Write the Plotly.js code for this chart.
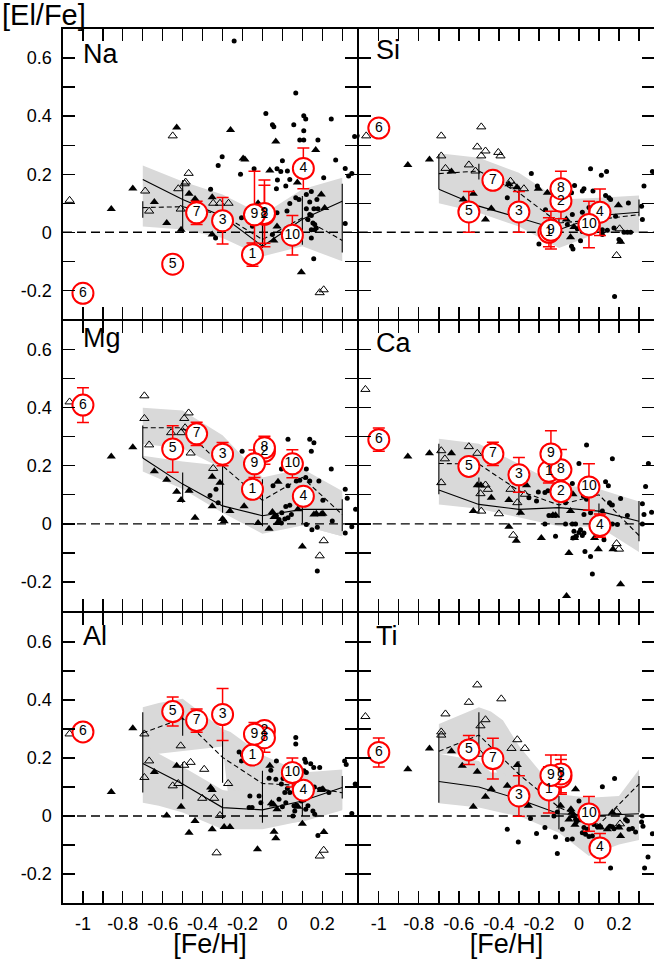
<!DOCTYPE html>
<html><head><meta charset="utf-8">
<script src="https://cdn.plot.ly/plotly-3.0.1.min.js"></script>
<style>html,body{margin:0;padding:0;background:#fff}#chart{width:654px;height:959px}</style>
</head><body><div id="chart"></div>
<script>
// ---------- shared values ----------
const nodeFeH = [-0.7, -0.5, -0.3, -0.1, 0.1, 0.3];
const starLabels = ['1','2','3','4','5','6','7','8','9','10'];
const starFeH = [-0.15, -0.09, -0.30, 0.105, -0.55, -1.0, -0.43, -0.09, -0.14, 0.05];
const xRange = [-1.1, 0.375];
const yRange = [-0.3, 0.7];
const xTickVals = [-1, -0.8, -0.6, -0.4, -0.2, 0, 0.2];
const xTickText = ['-1', '-0.8', '-0.6', '-0.4', '-0.2', '0', '0.2'];
const yTickVals = [-0.2, 0, 0.2, 0.4, 0.6];
const yTickText = ['-0.2', '0', '0.2', '0.4', '0.6'];
const panelNames = ['Na', 'Si', 'Mg', 'Ca', 'Al', 'Ti'];

// ---------- Na ----------
const naStarY = [-0.077, 0.062, 0.04, 0.22, -0.11, -0.21, 0.067, 0.065, 0.06, -0.01];
const naStarErr = [0.04, 0.10, 0.08, 0.07, 0, 0, 0.04, 0.115, 0.15, 0.068];
const naSolid = [0.182, 0.113, 0.055, -0.048, 0.045, 0.107];
const naDashed = [0.085, 0.088, 0.06, -0.025, 0.05, -0.028];
const naBars = [[-0.7,0.05,0.107],[-0.5,0.0,0.18],[-0.3,0.02,0.09],[-0.1,-0.054,0.067],[0.1,-0.043,0.125],[0.3,-0.07,0.167]];
const naBandTop = [0.23, 0.175, 0.13, 0.06, 0.148, 0.188];
const naBandBot = [0.02, 0.01, -0.02, -0.083, -0.048, -0.1];
const naOpen = [[-1.067,0.11],[-0.688,0.142],[-0.668,0.073],[-0.55,0.332],[-0.522,0.15],[-0.51,0.08],[-0.49,0.167],[-0.485,0.173],[-0.47,0.203],[-0.347,0.10],[-0.313,0.10],[-0.27,0.10],[0.187,-0.208],[0.207,-0.198]];
const naFilled = [[-0.858,0.08],[-0.75,0.151],[-0.642,0.104],[-0.58,0.032],[-0.53,0.361],[-0.508,0.009],[-0.468,0.133],[-0.438,0.115],[-0.352,0.121],[-0.352,-0.008],[-0.26,0.352],[-0.197,0.254],[-0.188,0.251],[-0.122,0.10],[-0.063,0.213],[-0.033,0.313],[-0.043,-0.028],[-0.027,0.02],[0.075,0.171],[0.095,-0.138],[0.167,0.283],[0.195,0.13],[0.212,0.084]];
const naDots = [[-0.242,0.659],[0.067,0.48],[-0.083,0.409],[0.107,0.401],[0.117,0.39],[0.245,0.39],[-0.05,0.37],[-0.043,0.363],[0.057,0.37],[0.107,0.35],[0.087,0.318],[0.107,0.318],[0.178,0.318],[0.362,0.33],[-0.302,0.26],[-0.322,0.23],[-0.142,0.219],[0.0,0.246],[-0.008,0.209],[-0.027,0.219],[0.025,0.211],[0.267,0.249],[-0.21,0.2],[-0.025,0.18],[0.037,0.182],[0.017,0.159],[-0.03,0.15],[0.315,0.22],[0.332,0.194],[0.348,0.202],[0.207,0.188],[-0.36,0.148],[0.145,0.14],[0.12,0.13],[0.067,0.119],[0.083,0.113],[0.173,0.113],[0.037,0.099],[0.137,0.104],[0.178,0.081],[0.158,0.081],[0.12,0.081],[-0.205,0.05],[0.023,0.073],[0.137,0.061],[0.145,0.058],[0.128,0.044],[-0.15,0.021],[0.153,0.032],[0.162,0.027],[0.17,0.015],[0.145,0.009],[0.162,0.009],[0.145,-0.02],[0.315,0.03],[0.157,-0.091],[-0.05,-0.008],[-0.335,-0.02],[-0.027,0.067]];

// ---------- Si ----------
const siStarY = [0.0, 0.107, 0.07, 0.069, 0.07, 0.359, 0.179, 0.15, 0.007, 0.027];
const siStarErr = [0.05, 0.06, 0.07, 0.08, 0.07, 0, 0.025, 0.06, 0.065, 0.08];
const siSolid = [0.148, 0.09, 0.05, 0.009, 0.058, 0.069];
const siDashed = [0.202, 0.211, 0.136, 0.032, 0.044, 0.061];
const siBars = [[-0.7,0.148,0.269],[-0.5,0.182,0.236],[-0.3,0.11,0.16],[-0.1,-0.02,0.05],[0.1,0.03,0.08],[0.3,0.055,0.113]];
const siBandTop = [0.272, 0.257, 0.205, 0.113, 0.119, 0.127];
const siBandBot = [0.1, 0.067, 0.02, -0.054, -0.002, -0.002];
const siOpen = [[-1.063,0.332],[-0.688,0.332],[-0.688,0.263],[-0.667,0.22],[-0.55,0.232],[-0.517,0.211],[-0.508,0.294],[-0.488,0.363],[-0.488,0.263],[-0.467,0.28],[-0.403,0.275],[-0.392,0.263],[-0.342,0.176],[-0.325,0.16],[-0.275,0.15],[0.203,0.012],[0.188,-0.08]];
const siFilled = [[-0.855,0.232],[-0.747,0.251],[-0.637,0.209],[-0.578,0.113],[-0.528,0.133],[-0.438,0.082],[-0.467,0.044],[-0.35,0.165],[-0.31,0.155],[-0.203,0.15],[-0.158,0.136],[-0.063,0.044],[-0.042,-0.017],[-0.025,0.018],[0.197,0.093],[0.208,-0.033]];
const siDots = [[-1.108,0.332],[-0.238,0.202],[-0.358,0.119],[-0.208,0.159],[-0.167,0.078],[0.058,0.219],[0.138,0.209],[0.112,0.196],[-0.022,0.161],[0.025,0.15],[0.017,0.142],[0.07,0.142],[-0.037,0.136],[0.133,0.127],[0.15,0.119],[0.158,0.113],[0.247,0.101],[0.325,0.159],[0.367,0.209],[0.313,0.09],[0.317,0.044],[0.183,0.055],[0.137,0.065],[0.017,0.069],[-0.033,0.061],[-0.008,0.012],[0.017,0.003],[0.117,0.009],[0.142,0.007],[0.175,0.015],[0.225,0.0],[0.242,0.0],[0.258,0.0],[-0.2,-0.04],[-0.172,-0.025],[-0.03,-0.058],[-0.037,-0.048],[0.008,-0.029],[0.117,-0.008],[0.178,-0.221],[0.2,-0.025],[0.208,-0.031],[-0.058,0.027],[0.05,0.085]];

// ---------- Mg ----------
const mgStarY = [0.119, 0.25, 0.24, 0.095, 0.258, 0.409, 0.31, 0.262, 0.207, 0.207];
const mgStarErr = [0, 0.045, 0.04, 0, 0.08, 0.06, 0.04, 0.04, 0.047, 0.048];
const mgSolid = [0.227, 0.137, 0.062, 0.028, 0.05, 0.05];
const mgDashed = [0.331, 0.331, 0.2, 0.081, 0.16, 0.032];
const mgBars = [[-0.7,0.227,0.339],[-0.5,0.073,0.177],[-0.3,0.038,0.2],[-0.1,-0.008,0.154],[0.1,0.003,0.096],[0.3,-0.025,0.085]];
const mgBandATop = [0.40, 0.39, 0.305, 0.16, 0.19, 0.113];
const mgBandABot = [0.275, 0.26, 0.19, 0.0, -0.006, -0.043];
const mgBandBTop = [0.235, 0.215, 0.2, 0.1, 0.1, 0.1];
const mgBandBBot = [0.18, 0.12, 0.038, -0.034, -0.006, -0.043];
const mgOpen = [[-1.067,0.42],[-0.692,0.441],[-0.692,0.363],[-0.668,0.272],[-0.558,0.314],[-0.508,0.314],[-0.492,0.363],[-0.488,0.331],[-0.47,0.382],[-0.46,0.244],[-0.347,0.191],[0.187,-0.11],[0.207,-0.058]];
const mgFilled = [[-0.858,0.232],[-0.75,0.264],[-0.642,0.181],[-0.58,0.152],[-0.53,0.111],[-0.508,0.082],[-0.468,0.114],[-0.438,0.021],[-0.352,0.162],[-0.352,0.061],[-0.313,0.142],[-0.3,0.017],[-0.292,0.009],[-0.263,0.044],[-0.192,0.061],[-0.122,0.003],[-0.067,-0.017],[-0.05,0.041],[-0.042,0.024],[-0.025,0.003],[-0.022,0.145],[0.078,0.05],[0.1,-0.078],[0.158,0.032],[0.17,0.035],[0.195,0.033],[0.203,0.035]];
const mgDots = [[-0.202,0.25],[-0.363,0.098],[-0.333,0.119],[-0.322,0.073],[0.028,0.291],[0.137,0.291],[0.158,0.279],[0.145,0.25],[0.245,0.189],[0.12,0.189],[-0.005,0.189],[0.058,0.189],[0.117,0.16],[0.137,0.148],[0.183,0.148],[0.07,0.148],[0.087,0.15],[0.028,0.131],[-0.047,0.131],[0.203,0.081],[0.017,0.06],[0.037,0.064],[-0.003,0.038],[0.012,0.017],[0.028,0.021],[0.045,0.032],[-0.03,0.027],[-0.017,0.015],[-0.005,0.003],[0.12,-0.002],[0.148,-0.02],[0.175,-0.012],[0.315,0.119],[0.325,0.088],[0.315,-0.031],[0.348,-0.01],[0.367,0.05],[0.175,-0.162],[0.25,0.01]];

// ---------- Ca ----------
const caStarY = [0.181, 0.111, 0.169, -0.006, 0.198, 0.29, 0.241, 0.186, 0.241, 0.127];
const caStarErr = [0.04, 0.03, 0.06, 0.04, 0, 0.04, 0.04, 0.07, 0.08, 0.08];
const caSolid = [0.117, 0.067, 0.05, 0.056, 0.044, 0.009];
const caDashed = [0.208, 0.206, 0.114, 0.065, 0.1, -0.04];
const caBars = [[-0.7,0.102,0.276],[-0.5,0.036,0.16],[-0.3,0.03,0.13],[-0.1,0.02,0.09],[0.1,0.02,0.07],[0.3,-0.06,0.079]];
const caBandTop = [0.293, 0.276, 0.206, 0.135, 0.12, 0.077];
const caBandBot = [0.067, 0.052, 0.021, -0.008, -0.01, -0.097];
const caOpen = [[-1.067,0.463],[-0.688,0.252],[-0.688,0.142],[-0.67,0.224],[-0.55,0.266],[-0.508,0.243],[-0.492,0.104],[-0.488,0.044],[-0.467,0.134],[-0.455,0.119],[-0.4,0.035],[-0.342,0.119],[-0.328,-0.039],[-0.308,0.073],[-0.27,0.102],[0.188,-0.068],[0.2,-0.087]];
const caFilled = [[-0.855,0.232],[-0.747,0.243],[-0.637,0.243],[-0.528,0.044],[-0.508,0.133],[-0.49,0.133],[-0.438,0.09],[-0.35,-0.01],[-0.35,0.082],[-0.313,-0.058],[-0.292,0.038],[-0.262,0.133],[-0.188,-0.049],[-0.13,0.03],[-0.117,0.03],[-0.05,-0.1],[-0.042,0.044],[-0.03,0.102],[-0.022,-0.049],[-0.062,-0.248],[0.078,-0.049],[0.097,-0.087],[0.17,-0.087],[0.208,-0.208]];
const caDots = [[0.038,0.272],[0.0,0.208],[0.167,0.224],[0.347,0.208],[0.133,0.145],[0.147,0.131],[-0.033,0.139],[-0.203,0.11],[-0.17,0.108],[-0.155,0.114],[-0.075,0.114],[0.022,0.096],[0.038,0.085],[-0.067,0.073],[-0.25,0.09],[-0.212,0.079],[-0.15,0.029],[-0.133,0.029],[-0.117,0.029],[0.025,0.032],[0.058,0.038],[0.117,0.044],[0.208,0.087],[0.167,0.065],[0.153,0.073],[0.242,0.029],[0.167,0.0],[0.192,-0.002],[-0.17,0.0],[-0.067,0.0],[-0.033,0.0],[-0.017,0.0],[0.008,-0.02],[0.025,-0.031],[-0.117,-0.043],[-0.025,-0.025],[0.0,-0.03],[-0.03,-0.049],[-0.013,-0.043],[0.017,-0.04],[0.058,-0.112],[0.067,-0.173],[0.325,0.032],[0.333,0.129],[0.363,0.04],[0.317,0.069],[0.317,0.0],[0.108,-0.031],[0.117,-0.02],[0.125,-0.055],[0.03,-0.095]];

// ---------- Al ----------
const alStarY = [0.21, 0.295, 0.35, 0.089, 0.36, 0.29, 0.329, 0.27, 0.282, 0.15];
const alStarErr = [0, 0.03, 0.09, 0, 0.05, 0, 0.04, 0.05, 0.04, 0.05];
const alSolid = [0.181, 0.11, 0.029, 0.021, 0.052, 0.098];
const alDashed = [0.286, 0.337, 0.202, 0.112, 0.105, 0.08];
const alBars = [[-0.7,0.081,0.358],[-0.5,0.277,0.352],[-0.5,0.058,0.185],[-0.3,0.115,0.29],[-0.3,-0.01,0.06],[-0.1,-0.023,0.156],[0.1,0.0,0.058],[0.3,0.06,0.138]];
const alBandX = [-0.7, -0.62, -0.5, -0.3, -0.26, -0.1, 0.1, 0.3];
const alBandATop = [0.375, 0.39, 0.404, 0.30, 0.29, 0.21, 0.15, 0.16];
const alBandABot = [0.2, 0.215, 0.225, 0.24, 0.0, -0.03, -0.02, 0.02];
const alBandBTop = [0.25, 0.215, 0.17, 0.09, 0.085, 0.1, 0.1, 0.1];
const alBandBBot = [0.046, 0.035, 0.012, -0.046, -0.046, -0.046, -0.017, 0.023];
const alOpen = [[-1.067,0.283],[-0.692,0.283],[-0.692,0.133],[-0.668,0.19],[-0.55,0.104],[-0.522,0.112],[-0.51,0.242],[-0.492,0.175],[-0.46,0.185],[-0.402,0.061],[-0.392,0.161],[-0.342,0.061],[-0.33,-0.127],[-0.313,0.002],[-0.272,0.112],[0.187,-0.138],[0.207,-0.118]];
const alFilled = [[-0.858,0.083],[-0.75,0.303],[-0.642,0.152],[-0.58,0.002],[-0.53,0.173],[-0.508,0.032],[-0.468,-0.058],[-0.438,-0.017],[-0.36,0.098],[-0.352,0.09],[-0.352,-0.046],[-0.292,-0.038],[-0.263,-0.038],[-0.125,-0.115],[-0.063,0.173],[-0.042,-0.054],[-0.033,-0.077],[-0.055,0.044],[-0.045,0.04],[-0.027,0.023],[0.078,0.032],[0.1,-0.027],[0.195,0.09],[0.203,0.092],[0.208,-0.055]];
const alDots = [[0.067,0.271],[0.067,0.248],[-0.217,0.221],[-0.2,0.21],[-0.205,0.19],[-0.03,0.19],[-0.058,0.158],[-0.067,0.13],[-0.033,0.127],[0.003,0.129],[0.112,0.196],[0.117,0.185],[0.142,0.18],[0.157,0.167],[0.187,0.167],[0.108,0.156],[0.12,0.15],[-0.005,0.11],[0.025,0.095],[0.037,0.081],[0.012,0.081],[-0.163,0.069],[-0.117,0.069],[-0.167,0.029],[-0.152,0.029],[-0.108,0.046],[-0.017,0.058],[0.0,0.032],[0.017,0.046],[0.058,0.035],[0.07,0.037],[0.095,0.052],[0.108,0.055],[0.117,0.023],[0.128,0.035],[0.153,0.017],[0.162,0.006],[0.053,0.0],[0.062,0.017],[0.178,-0.067],[0.187,0.092],[0.233,0.081],[0.312,0.19],[0.32,0.178],[0.348,0.009],[0.365,0.11],[0.15,0.09],[0.16,0.1],[0.13,0.1]];

// ---------- Ti ----------
const tiStarY = [0.09, 0.135, 0.069, -0.11, 0.228, 0.219, 0.198, 0.145, 0.14, 0.007];
const tiStarErr = [0.08, 0.06, 0.07, 0.05, 0.05, 0.05, 0.07, 0.065, 0.07, 0.06];
const tiSolid = [0.119, 0.1, 0.058, 0.008, 0.002, 0.008];
const tiDashed = [0.223, 0.279, 0.144, 0.03, -0.03, 0.11];
const tiBars = [[-0.7,0.046,0.283],[-0.5,0.219,0.358],[-0.3,0.07,0.19],[-0.1,-0.046,0.069],[0.3,0.012,0.138]];
const tiBandX = [-0.7, -0.5, -0.44, -0.38, -0.3, -0.1, 0.05, 0.2, 0.3];
const tiBandATop = [0.317, 0.375, 0.36, 0.33, 0.242, 0.075, 0.063, 0.069, 0.16];
const tiBandABot = [0.215, 0.21, 0.2, 0.1, 0.05, -0.04, -0.1, -0.05, -0.06];
const tiBandBTop = [0.215, 0.19, 0.15, 0.15, 0.1, 0.05, 0.03, 0.03, 0.05];
const tiBandBBot = [0.044, 0.029, 0.02, 0.01, 0.0, -0.058, -0.138, -0.098, -0.083];
const tiOpen = [[-1.067,0.343],[-0.688,0.279],[-0.688,0.29],[-0.667,0.352],[-0.55,0.392],[-0.508,0.452],[-0.492,0.311],[-0.467,0.332],[-0.492,0.213],[-0.388,0.404],[-0.308,0.263],[-0.337,0.233],[-0.27,0.233],[0.188,0.015],[0.205,-0.027]];
const tiFilled = [[-0.855,0.161],[-0.747,0.233],[-0.637,0.223],[-0.583,0.173],[-0.528,0.032],[-0.508,0.153],[-0.467,0.066],[-0.438,0.092],[-0.358,0.104],[-0.308,0.176],[-0.253,0.035],[-0.092,0.035],[-0.017,0.092],[-0.04,0.023],[-0.035,0.012],[-0.03,0.0],[-0.05,-0.012],[-0.02,-0.03],[0.167,0.012],[0.108,-0.04],[0.142,-0.046],[0.208,-0.069],[0.2,-0.04],[0.0,-0.015]];
const tiDots = [[0.178,0.129],[0.117,0.101],[0.0,0.052],[-0.358,-0.046],[-0.303,-0.09],[-0.242,-0.009],[-0.212,-0.06],[-0.17,-0.04],[-0.117,-0.072],[-0.108,-0.129],[-0.125,0.0],[-0.108,0.014],[-0.083,-0.046],[-0.058,-0.081],[-0.033,-0.079],[0.017,-0.058],[0.033,-0.063],[0.05,-0.071],[0.067,-0.069],[0.075,-0.029],[0.092,-0.037],[0.108,-0.037],[0.155,-0.035],[0.167,-0.037],[0.175,-0.044],[0.2,-0.037],[0.233,-0.012],[0.25,-0.046],[0.283,-0.055],[0.313,-0.021],[0.32,-0.035],[0.158,-0.179],[0.328,-0.179],[0.345,-0.141],[-0.017,-0.012],[-0.013,-0.02],[0.025,-0.04],[0.042,-0.046],[0.242,-0.017],[0.267,-0.043],[0.317,0.0],[0.367,-0.061]];

// ---------- assemble ----------
const panelData = [
  {starY: naStarY, starErr: naStarErr, solid: naSolid, dashed: naDashed, bars: naBars, bandX: nodeFeH, bands: [[naBandTop, naBandBot]], open: naOpen, filled: naFilled, dots: naDots},
  {starY: siStarY, starErr: siStarErr, solid: siSolid, dashed: siDashed, bars: siBars, bandX: nodeFeH, bands: [[siBandTop, siBandBot]], open: siOpen, filled: siFilled, dots: siDots},
  {starY: mgStarY, starErr: mgStarErr, solid: mgSolid, dashed: mgDashed, bars: mgBars, bandX: nodeFeH, bands: [[mgBandATop, mgBandABot],[mgBandBTop, mgBandBBot]], open: mgOpen, filled: mgFilled, dots: mgDots},
  {starY: caStarY, starErr: caStarErr, solid: caSolid, dashed: caDashed, bars: caBars, bandX: nodeFeH, bands: [[caBandTop, caBandBot]], open: caOpen, filled: caFilled, dots: caDots},
  {starY: alStarY, starErr: alStarErr, solid: alSolid, dashed: alDashed, bars: alBars, bandX: alBandX, bands: [[alBandATop, alBandABot],[alBandBTop, alBandBBot]], open: alOpen, filled: alFilled, dots: alDots},
  {starY: tiStarY, starErr: tiStarErr, solid: tiSolid, dashed: tiDashed, bars: tiBars, bandX: tiBandX, bands: [[tiBandATop, tiBandABot],[tiBandBTop, tiBandBBot]], open: tiOpen, filled: tiFilled, dots: tiDots}
];

// layout geometry (pixels of the 654x959 page)
const W = 654, H = 959;
const M = {l: 63, r: 0, t: 29, b: 56};
const PW = W - M.l - M.r, PH = H - M.t - M.b;
const LW = 1.6;
const colPx = [[63, 358 - LW / 2], [358 + LW / 2, 654]];
const rowPx = [[29, 319.4], [320.6, 611], [613, 903]];
const labelPos = [[81, 37], [374, 33], [81, 321], [374, 326], [81, 619], [374, 619]];
const FONT = 'Liberation Sans, Arial, Helvetica, sans-serif';
const px2x = p => (p - M.l) / PW;
const py2y = p => (H - M.b - p) / PH;

const traces = [];
const layout = {
  width: W, height: H,
  margin: {l: M.l, r: M.r, t: M.t, b: M.b, pad: 0},
  paper_bgcolor: 'white', plot_bgcolor: 'white',
  showlegend: false,
  font: {family: FONT, color: 'black'},
  annotations: [], shapes: []
};

panelData.forEach((p, i) => {
  const n = i + 1;
  const xa = n === 1 ? 'x' : 'x' + n;
  const ya = n === 1 ? 'y' : 'y' + n;
  const col = i % 2, row = Math.floor(i / 2);
  const common = {
    showline: true, linecolor: 'black', linewidth: LW, mirror: 'allticks',
    ticks: 'inside', ticklen: 12, tickwidth: 1.3, tickcolor: 'black',
    showgrid: false, zeroline: false, fixedrange: true,
    tickfont: {family: FONT, size: 18, color: 'black'},
    minor: {ticks: 'inside', ticklen: 12, tickwidth: 1.3, tickcolor: 'black', tickmode: 'linear', tick0: 0, dtick: 0.1, showgrid: false}
  };
  layout[n === 1 ? 'xaxis' : 'xaxis' + n] = Object.assign({}, common, {
    domain: [px2x(colPx[col][0]), px2x(colPx[col][1])],
    anchor: ya, range: xRange,
    tickmode: 'array', tickvals: xTickVals, ticktext: xTickText,
    showticklabels: row === 2, ticklabelstandoff: 4,
    title: row === 2 ? {text: '[Fe/H]', font: {family: FONT, size: 27, color: 'black'}, standoff: 5} : undefined
  });
  layout[n === 1 ? 'yaxis' : 'yaxis' + n] = Object.assign({}, common, {
    domain: [py2y(rowPx[row][1]), py2y(rowPx[row][0])],
    anchor: xa, range: yRange,
    tickmode: 'array', tickvals: yTickVals, ticktext: yTickText,
    showticklabels: col === 0, ticklabelstandoff: 6
  });
  // shaded bands
  p.bands.forEach(b => {
    traces.push({
      type: 'scatter', mode: 'lines', xaxis: xa, yaxis: ya,
      x: p.bandX.concat(p.bandX.slice().reverse()),
      y: b[0].concat(b[1].slice().reverse()),
      fill: 'toself', fillcolor: '#d9d9d9', line: {width: 0}, hoverinfo: 'skip'
    });
  });
  // zero reference line
  traces.push({type: 'scatter', mode: 'lines', xaxis: xa, yaxis: ya, x: xRange, y: [0, 0],
    line: {color: 'black', width: 1.4, dash: '9px,5px'}, hoverinfo: 'skip'});
  // trend lines
  traces.push({type: 'scatter', mode: 'lines', xaxis: xa, yaxis: ya, x: nodeFeH, y: p.solid,
    line: {color: 'black', width: 1.1}});
  traces.push({type: 'scatter', mode: 'lines', xaxis: xa, yaxis: ya, x: nodeFeH, y: p.dashed,
    line: {color: 'black', width: 1.1, dash: '5px,3px'}});
  // dispersion bars
  traces.push({type: 'scatter', mode: 'markers', xaxis: xa, yaxis: ya,
    x: p.bars.map(b => b[0]), y: p.bars.map(b => (b[1] + b[2]) / 2),
    marker: {size: 2, opacity: 0},
    error_y: {type: 'data', symmetric: false, array: p.bars.map(b => (b[2] - b[1]) / 2),
      arrayminus: p.bars.map(b => (b[2] - b[1]) / 2), width: 0, thickness: 1.1, color: 'black'}});
  // comparison samples
  traces.push({type: 'scatter', mode: 'markers', xaxis: xa, yaxis: ya,
    x: p.open.map(d => d[0]), y: p.open.map(d => d[1]),
    marker: {symbol: 'triangle-up-open', size: 8, color: 'black', line: {width: 1}}});
  traces.push({type: 'scatter', mode: 'markers', xaxis: xa, yaxis: ya,
    x: p.filled.map(d => d[0]), y: p.filled.map(d => d[1]),
    marker: {symbol: 'triangle-up', size: 8, color: 'black'}});
  traces.push({type: 'scatter', mode: 'markers', xaxis: xa, yaxis: ya,
    x: p.dots.map(d => d[0]), y: p.dots.map(d => d[1]),
    marker: {symbol: 'circle', size: 5, color: 'black'}});
  // program stars
  traces.push({type: 'scatter', mode: 'markers+text', xaxis: xa, yaxis: ya,
    x: starFeH, y: p.starY, text: starLabels, textposition: 'middle center',
    textfont: {family: FONT, size: 14, color: 'black'},
    marker: {symbol: 'circle', size: 21, color: 'white', line: {color: '#ff0000', width: 2}},
    error_y: {type: 'data', array: p.starErr, width: 6, thickness: 1.5, color: '#ff0000'}});
  // panel element label
  layout.annotations.push({
    xref: 'paper', yref: 'paper', x: px2x(labelPos[i][0]), y: py2y(labelPos[i][1]),
    xanchor: 'left', yanchor: 'top', showarrow: false, text: panelNames[i],
    font: {family: FONT, size: 27, color: 'black'}
  });
});

layout.annotations.push({
  xref: 'paper', yref: 'paper', x: px2x(0), y: py2y(-3), xanchor: 'left', yanchor: 'top',
  showarrow: false, text: '[El/Fe]', font: {family: FONT, size: 29, color: 'black'}
});

Plotly.newPlot('chart', traces, layout, {staticPlot: true, displayModeBar: false});
</script>
</body></html>
